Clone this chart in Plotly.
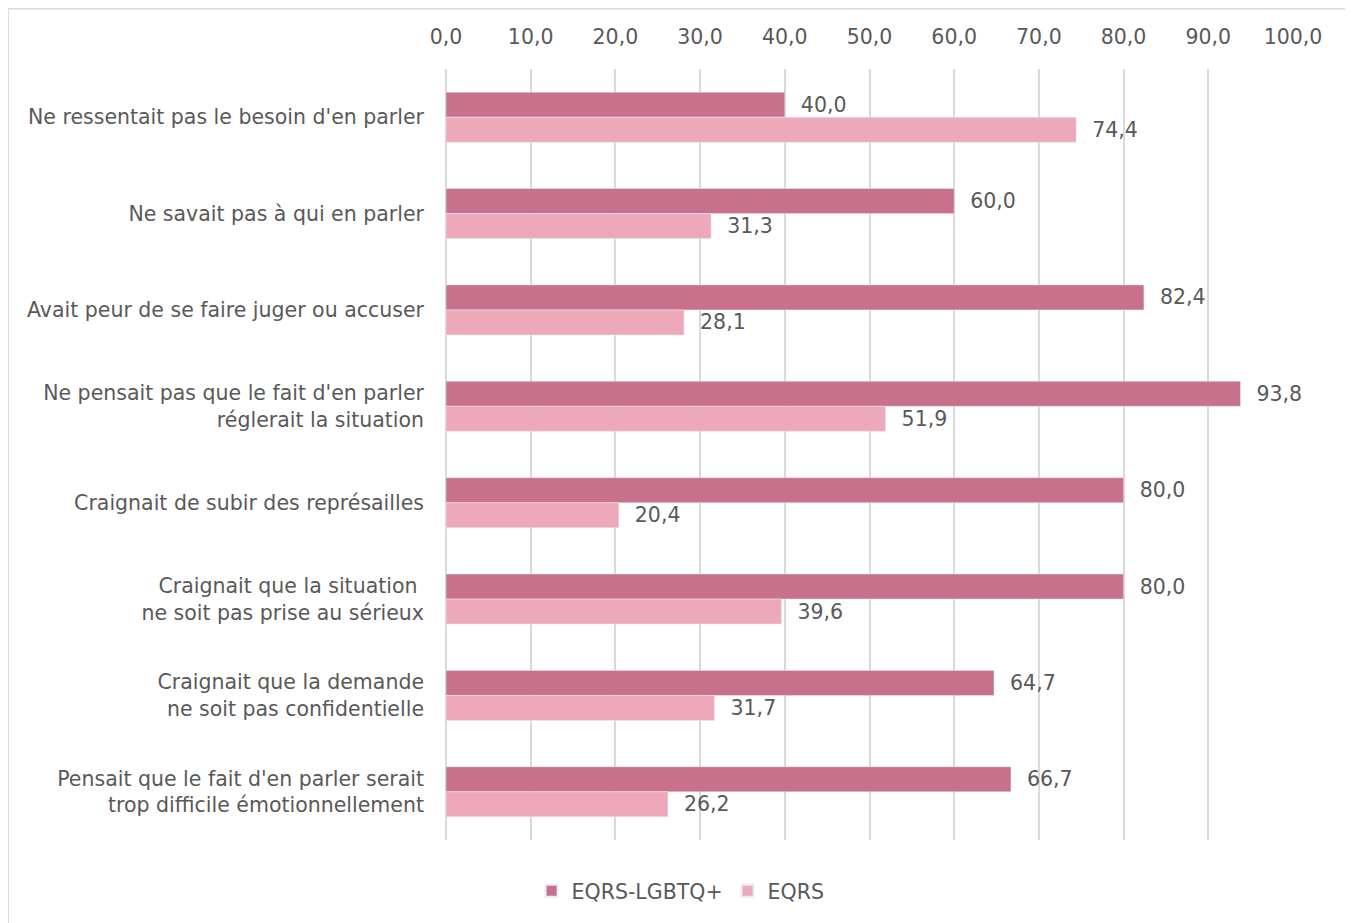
import plotly.graph_objects as go

categories = [
    "Ne ressentait pas le besoin d'en parler",
    "Ne savait pas à qui en parler",
    "Avait peur de se faire juger ou accuser",
    "Ne pensait pas que le fait d'en parler<br>réglerait la situation",
    "Craignait de subir des représailles",
    "Craignait que la situation <br>ne soit pas prise au sérieux",
    "Craignait que la demande<br>ne soit pas confidentielle",
    "Pensait que le fait d'en parler serait<br>trop difficile émotionnellement",
]
lgbtq_values = [40.0, 60.0, 82.4, 93.8, 80.0, 80.0, 64.7, 66.7]
eqrs_values = [74.4, 31.3, 28.1, 51.9, 20.4, 39.6, 31.7, 26.2]
tick_values = [0, 10, 20, 30, 40, 50, 60, 70, 80, 90, 100]

TEXT_COLOR = '#595959'
FONT = "'DejaVu Sans', sans-serif"
FS = 20.5
PAD = '\u00a0\u00a0'  # small gap between bar end and its value

fig = go.Figure()

# EQRS-LGBTQ+ (dark pink, top bar in each group)
fig.add_trace(go.Bar(
    y=categories,
    x=lgbtq_values,
    orientation='h',
    name='EQRS-LGBTQ+',
    marker=dict(color='#C9708C'),
    texttemplate=PAD + '%{x:.1f}',
    textposition='outside',
    textfont=dict(size=FS, color=TEXT_COLOR),
    cliponaxis=False,
))

# EQRS (light pink)
fig.add_trace(go.Bar(
    y=categories,
    x=eqrs_values,
    orientation='h',
    name='EQRS',
    marker=dict(color='#EDA9BA'),
    texttemplate=PAD + '%{x:.1f}',
    textposition='outside',
    textfont=dict(size=FS, color=TEXT_COLOR),
    cliponaxis=False,
))

fig.update_layout(
    width=1345,
    height=915,
    barmode='group',
    bargap=0.48,
    bargroupgap=0,
    separators=', ',
    paper_bgcolor='white',
    plot_bgcolor='white',
    font=dict(family=FONT, size=FS, color=TEXT_COLOR),
    margin=dict(l=438, r=60, t=61, b=83),
    xaxis=dict(
        side='top',
        range=[0, 100],
        tickvals=tick_values,
        tickformat='.1f',
        showgrid=True,
        gridcolor='#D9D9D9',
        gridwidth=1.5,
        zeroline=True,
        zerolinecolor='#D9D9D9',
        zerolinewidth=1.5,
        ticklabelstandoff=20,
        tickfont=dict(size=FS, color=TEXT_COLOR),
        fixedrange=True,
    ),
    yaxis=dict(
        autorange='reversed',
        showgrid=False,
        ticklabelstandoff=21,
        tickfont=dict(size=FS, color=TEXT_COLOR),
    ),
    legend=dict(
        orientation='h',
        x=0.277, xanchor='center',
        y=-0.066, yanchor='middle',
        font=dict(size=FS, color=TEXT_COLOR),
        itemsizing='constant',
    ),
    showlegend=True,
    shapes=[dict(
        type='rect', xref='paper', yref='paper',
        x0=-0.517, x1=1.065, y0=-0.12, y1=1.078,
        line=dict(color='#D9D9D9', width=1.5),
        fillcolor='rgba(0,0,0,0)',
        layer='below',
    )],
)

fig.write_html("out.html")
